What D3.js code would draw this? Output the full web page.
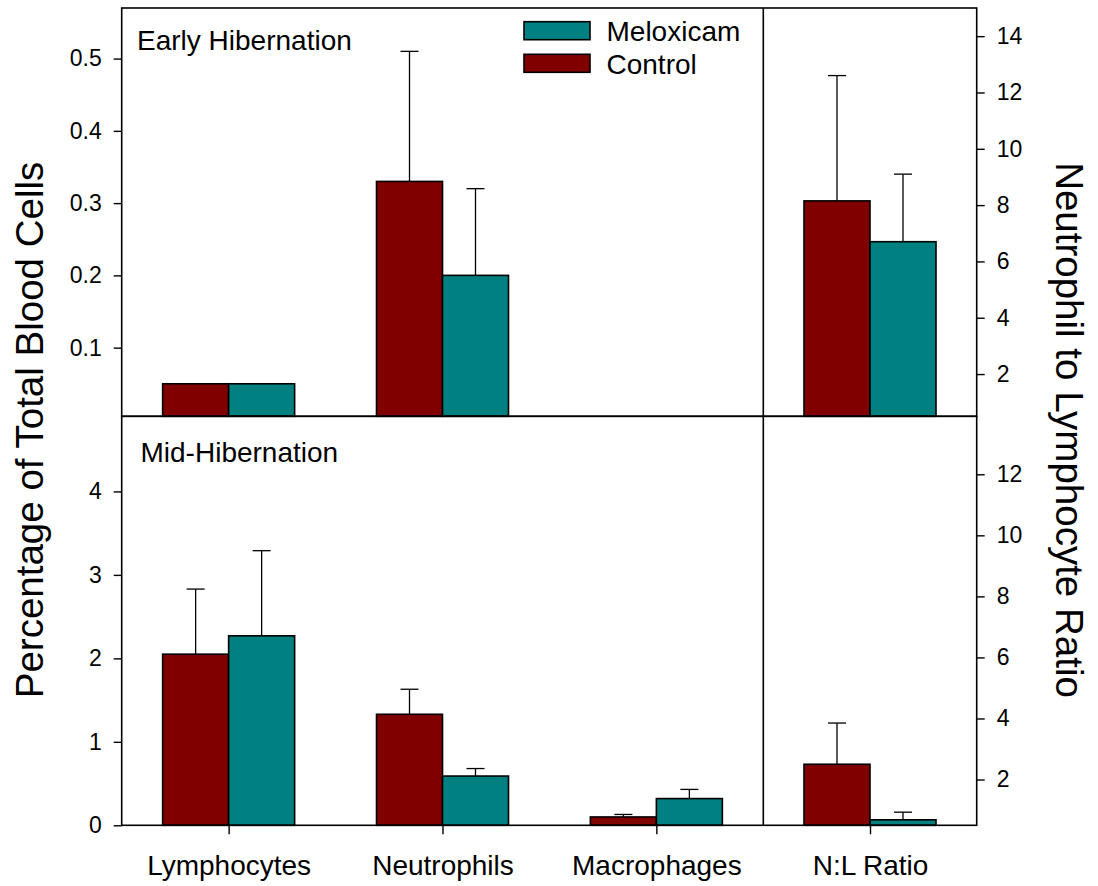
<!DOCTYPE html>
<html>
<head>
<meta charset="utf-8">
<script src="https://cdn.jsdelivr.net/npm/d3@7"></script>
<style>
  html, body { margin: 0; padding: 0; background: #fff; }
  svg { display: block; font-family: "Liberation Sans", Arial, sans-serif; }
</style>
</head>
<body>
<svg id="chart" width="1098" height="886"></svg>
<script>
// ---------------- data ----------------
const categories = ["Lymphocytes", "Neutrophils", "Macrophages"];
const ratioCategory = ["N:L Ratio"];
const series = ["Control", "Meloxicam"];
const legendOrder = ["Meloxicam", "Control"];

// Early hibernation (percentage of total blood cells): mean and mean+error
const earlyControl      = [0.05, 0.33, null];
const earlyControlErr   = [null, 0.51, null];
const earlyMeloxicam    = [0.05, 0.20, null];
const earlyMeloxicamErr = [null, 0.32, null];
// Early hibernation N:L ratio
const earlyRatio    = [8.15, 6.70];   // Control, Meloxicam
const earlyRatioErr = [12.6, 9.1];

// Mid hibernation (percentage of total blood cells)
const midControl      = [2.05, 1.33, 0.10];
const midControlErr   = [2.83, 1.63, 0.13];
const midMeloxicam    = [2.27, 0.59, 0.32];
const midMeloxicamErr = [3.29, 0.68, 0.43];
// Mid hibernation N:L ratio
const midRatio    = [2.50, 0.68];
const midRatioErr = [3.85, 0.93];

// tick values
const earlyLeftTicks  = [0.1, 0.2, 0.3, 0.4, 0.5];
const earlyRightTicks = [2, 4, 6, 8, 10, 12, 14];
const midLeftTicks    = [0, 1, 2, 3, 4];
const midRightTicks   = [2, 4, 6, 8, 10, 12];

const panelTitles = ["Early Hibernation", "Mid-Hibernation"];
const leftTitle  = "Percentage of Total Blood Cells";
const rightTitle = "Neutrophil to Lymphocyte Ratio";

// ---------------- layout ----------------
const colors = { Control: "#800000", Meloxicam: "#008080" };
const xL = 121.7, xM = 763.3, xR = 976.7;
const yT = 8, yMid = 416.3, yB = 825.3;
const barW = 66, capW = 18;
const tickFont = 23, labelFont = 28, titleFont = 38.5;

const svg = d3.select("#chart");

// x scales
const xCat = d3.scaleBand().domain(categories).range([xL, xM]).padding(0);
const xRatio = d3.scaleBand().domain(ratioCategory).range([xM, xR]).padding(0);
function sub(center) {
  return d3.scaleBand().domain(series).range([center - barW, center + barW]).padding(0);
}

// y scales
const yEarlyL = d3.scaleLinear().domain([0.005, 0.57]).range([yMid, yT]);
const yEarlyR = d3.scaleLinear().domain([0.5, 15]).range([yMid, yT]);
const yMidL   = d3.scaleLinear().domain([0, 4.9]).range([yB, yMid]);
const yMidR   = d3.scaleLinear().domain([0.5, 13.9]).range([yB, yMid]);

function drawBars(rows, yScale, base) {
  const g = svg.append("g");
  rows.forEach(r => {
    if (r.v == null) return;
    const s = sub(r.center);
    const x0 = s(r.s);
    const w = s.bandwidth();
    const y0 = yScale(r.v);
    if (r.e != null) {
      const cx = x0 + w / 2;
      g.append("line").attr("x1", cx).attr("x2", cx)
        .attr("y1", y0).attr("y2", yScale(r.e))
        .attr("stroke", "#000").attr("stroke-width", 1.3);
      g.append("line").attr("x1", cx - capW / 2).attr("x2", cx + capW / 2)
        .attr("y1", yScale(r.e)).attr("y2", yScale(r.e))
        .attr("stroke", "#000").attr("stroke-width", 1.3);
    }
    g.append("rect")
      .attr("x", x0).attr("y", y0)
      .attr("width", w).attr("height", base - y0)
      .attr("fill", colors[r.s]).attr("stroke", "#000").attr("stroke-width", 1.6);
  });
}

function catRows(ctrl, ctrlErr, melo, meloErr) {
  const rows = [];
  categories.forEach((c, i) => {
    const center = xCat(c) + xCat.bandwidth() / 2;
    rows.push({ center, s: "Control", v: ctrl[i], e: ctrlErr[i] });
    rows.push({ center, s: "Meloxicam", v: melo[i], e: meloErr[i] });
  });
  return rows;
}
function ratioRows(vals, errs) {
  const center = xRatio(ratioCategory[0]) + xRatio.bandwidth() / 2;
  return series.map((s, i) => ({ center, s, v: vals[i], e: errs[i] }));
}

drawBars(catRows(earlyControl, earlyControlErr, earlyMeloxicam, earlyMeloxicamErr), yEarlyL, yMid);
drawBars(ratioRows(earlyRatio, earlyRatioErr), yEarlyR, yMid);
drawBars(catRows(midControl, midControlErr, midMeloxicam, midMeloxicamErr), yMidL, yB);
drawBars(ratioRows(midRatio, midRatioErr), yMidR, yB);

// ---------------- frames ----------------
const frame = svg.append("g").attr("fill", "none").attr("stroke", "#000").attr("stroke-width", 1.6);
frame.append("rect").attr("x", xL).attr("y", yT).attr("width", xR - xL).attr("height", yMid - yT);
frame.append("rect").attr("x", xL).attr("y", yMid).attr("width", xR - xL).attr("height", yB - yMid);
frame.append("line").attr("x1", xM).attr("x2", xM).attr("y1", yT).attr("y2", yB);

// ---------------- axes ----------------
function styleAxis(g) {
  g.select(".domain").remove();
  g.selectAll(".tick line").attr("stroke", "#000").attr("stroke-width", 1.4);
  g.selectAll(".tick text").attr("fill", "#000")
    .style("font-family", '"Liberation Sans", Arial, sans-serif');
}
const fmtTop = d3.format(".1f");
svg.append("g").attr("transform", `translate(${xL},0)`)
  .call(d3.axisLeft(yEarlyL).tickValues(earlyLeftTicks).tickFormat(fmtTop).tickSize(8).tickPadding(12))
  .attr("font-size", tickFont).call(styleAxis);
svg.append("g").attr("transform", `translate(${xR},0)`)
  .call(d3.axisRight(yEarlyR).tickValues(earlyRightTicks).tickFormat(d3.format("d")).tickSize(8).tickPadding(12))
  .attr("font-size", tickFont).call(styleAxis);
svg.append("g").attr("transform", `translate(${xL},0)`)
  .call(d3.axisLeft(yMidL).tickValues(midLeftTicks).tickFormat(d3.format("d")).tickSize(8).tickPadding(12))
  .attr("font-size", tickFont).call(styleAxis);
svg.append("g").attr("transform", `translate(${xR},0)`)
  .call(d3.axisRight(yMidR).tickValues(midRightTicks).tickFormat(d3.format("d")).tickSize(8).tickPadding(12))
  .attr("font-size", tickFont).call(styleAxis);

// bottom category axes
const xCenters = d3.scalePoint().domain(categories).range([xCat(categories[0]) + xCat.bandwidth()/2, xCat(categories[2]) + xCat.bandwidth()/2]);
svg.append("g").attr("transform", `translate(0,${yB})`)
  .call(d3.axisBottom(xCenters).tickSize(9).tickPadding(21))
  .attr("font-size", labelFont).call(styleAxis);
const xRatioCenter = d3.scalePoint().domain(ratioCategory).range([xRatio(ratioCategory[0]) + xRatio.bandwidth()/2, xRatio(ratioCategory[0]) + xRatio.bandwidth()/2]);
svg.append("g").attr("transform", `translate(0,${yB})`)
  .call(d3.axisBottom(xRatioCenter).tickSize(9).tickPadding(21))
  .attr("font-size", labelFont).call(styleAxis);

// ---------------- panel labels ----------------
svg.append("text").attr("x", 137).attr("y", 50).attr("font-size", labelFont).text(panelTitles[0]);
svg.append("text").attr("x", 140.5).attr("y", 461.5).attr("font-size", labelFont).text(panelTitles[1]);

// ---------------- legend ----------------
const legend = svg.append("g");
legendOrder.forEach((s, i) => {
  const y = 21.7 + i * 32.6;
  legend.append("rect").attr("x", 524).attr("y", y).attr("width", 66).attr("height", 18)
    .attr("fill", colors[s]).attr("stroke", "#000").attr("stroke-width", 1.6);
  legend.append("text").attr("x", 606.5).attr("y", y + 19.5).attr("font-size", labelFont).text(s);
});

// ---------------- axis titles ----------------
svg.append("text")
  .attr("transform", `translate(43,430) rotate(-90)`)
  .attr("text-anchor", "middle").attr("font-size", titleFont).text(leftTitle);
svg.append("text")
  .attr("transform", `translate(1056,430) rotate(90)`)
  .attr("text-anchor", "middle").attr("font-size", titleFont).text(rightTitle);
</script>
</body>
</html>
